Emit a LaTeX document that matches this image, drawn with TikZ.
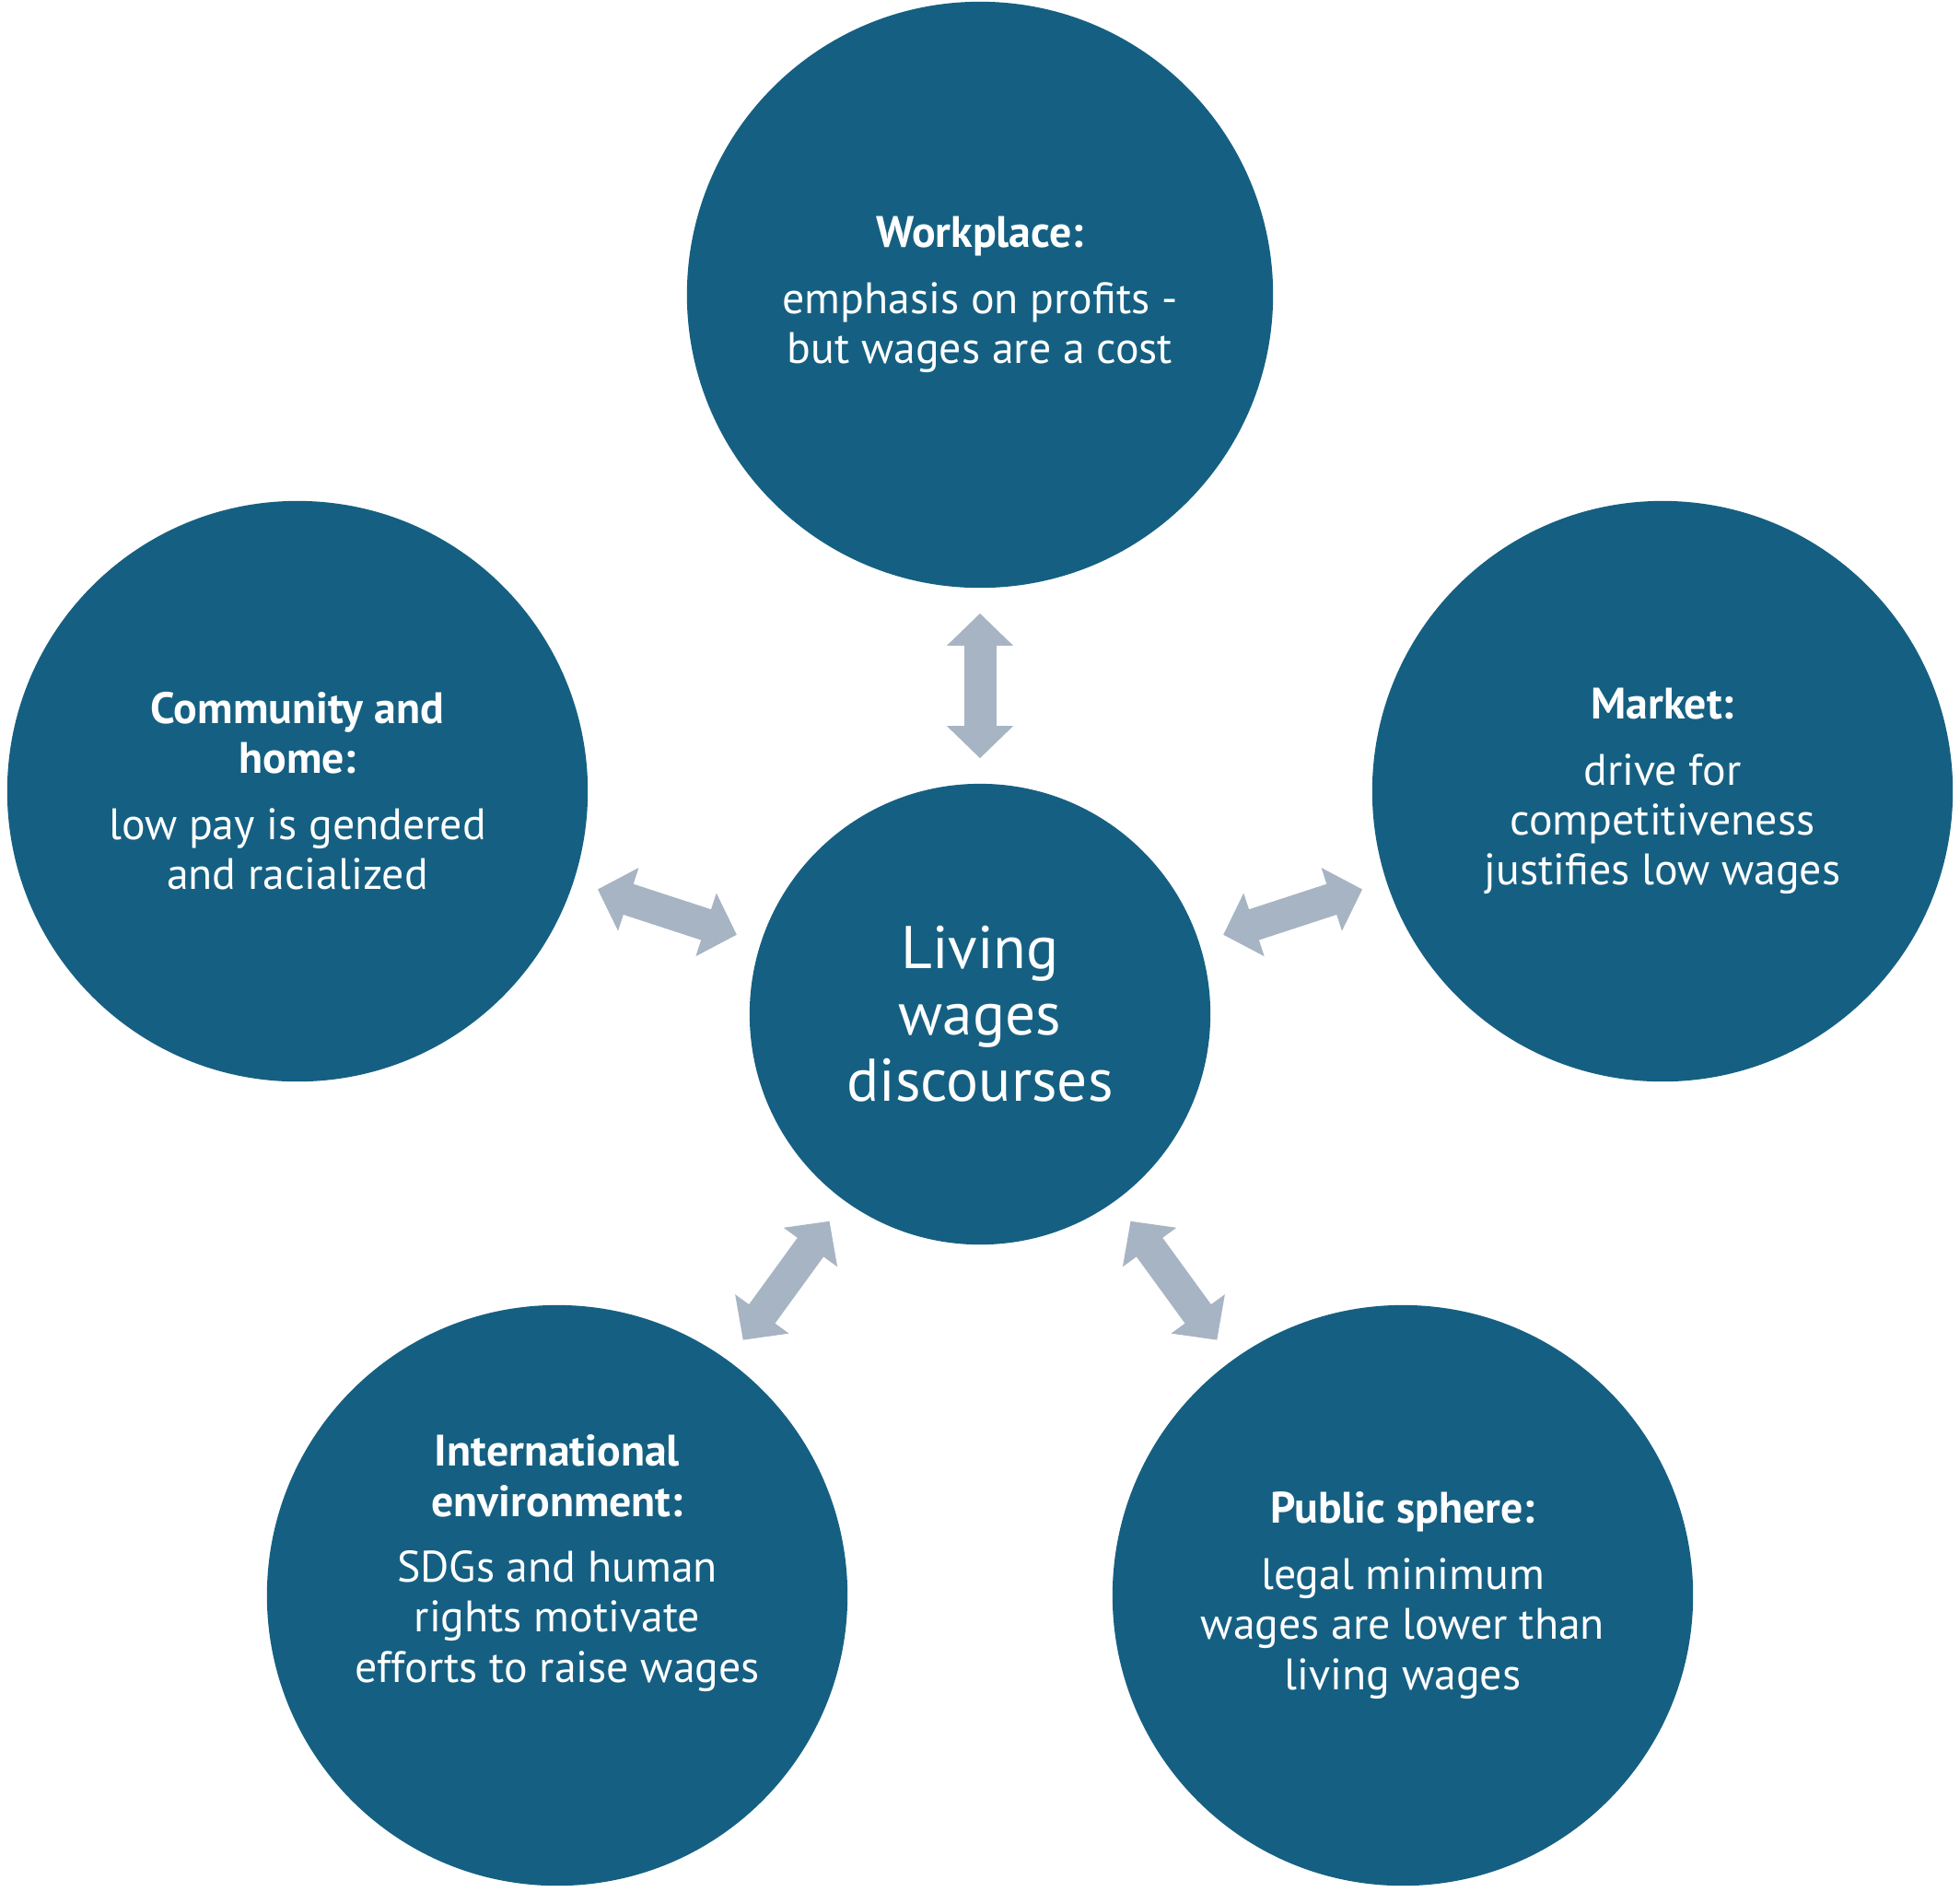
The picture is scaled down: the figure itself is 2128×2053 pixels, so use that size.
\documentclass[tikz,border=0pt]{standalone}
\usepackage{fontspec}
\setmainfont{PT Sans}
\usepackage{tikz}
\usepackage{xcolor}
\usetikzlibrary{arrows.meta}
\definecolor{discblue}{HTML}{156082}
\definecolor{linkgrey}{HTML}{A7B4C3}
\tikzstyle{topic}=[circle, fill=discblue, draw=none, inner sep=0pt, minimum size=6.3cm]
\tikzstyle{topictext}=[text=white, align=center, inner sep=0pt, font=\fontsize{13.6}{15.4}\selectfont]
\tikzstyle{link}=[linkgrey, line width=0.35cm, {Triangle[length=0.35cm,width=0.7cm]}-{Triangle[length=0.35cm,width=0.7cm]}, shorten <=0.27cm, shorten >=0.27cm]

\begin{document}
\begin{tikzpicture}[x=0.01cm, y=-0.01cm]%

	\fill [white] (0,0) rectangle (2128,2053);
	\useasboundingbox (0,0) rectangle (2128,2053);

	\begin{scope}
		\draw  (1064,1101)  node (Topic_Hub)  [topic, minimum size=5.0cm] {};
		\draw  (1064,320)   node (Topic_Work) [topic, minimum size=6.36cm] {};
		\draw  (323,859)    node (Topic_Comm) [topic] {};
		\draw  (1805,859)   node (Topic_Mark) [topic] {};
		\draw  (605,1732)   node (Topic_Intl) [topic] {};
		\draw  (1523,1732)  node (Topic_Publ) [topic] {};

		\draw [link] (Topic_Hub) -- (Topic_Work);
		\draw [link] (Topic_Hub) -- (Topic_Comm);
		\draw [link] (Topic_Hub) -- (Topic_Mark);
		\draw [link] (Topic_Hub) -- (Topic_Intl);
		\draw [link] (Topic_Hub) -- (Topic_Publ);
	\end{scope}

	\draw  (Topic_Hub)  node (Text_Hub)  [topictext, font=\fontsize{18.6}{20.5}\selectfont] {Living\\ wages\\ discourses};
	\draw  (Topic_Work) node (Text_Work) [topictext] {\textbf{Workplace:}\\[5pt] emphasis on profits -\\ but wages are a cost};
	\draw  (Topic_Comm) node (Text_Comm) [topictext] {\textbf{Community and}\\ \textbf{home:}\\[5pt] low pay is gendered\\ and racialized};
	\draw  (Topic_Mark) node (Text_Mark) [topictext] {\textbf{Market:}\\[5pt] drive for\\ competitiveness\\ justifies low wages};
	\draw  ([yshift=0.35cm]Topic_Intl) node (Text_Intl) [topictext] {\textbf{International}\\ \textbf{environment:}\\[5pt] SDGs and human\\ rights motivate\\ efforts to raise wages};
	\draw  (Topic_Publ) node (Text_Publ) [topictext] {\textbf{Public sphere:}\\[5pt] legal minimum\\ wages are lower than\\ living wages};

\end{tikzpicture}
\end{document}
